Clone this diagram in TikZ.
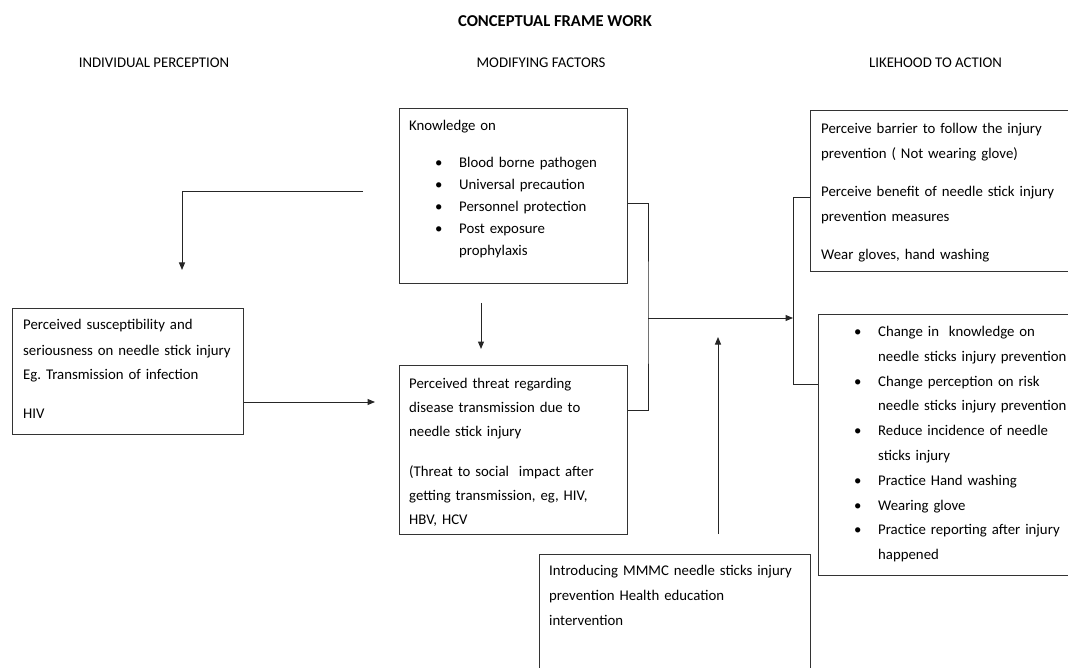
\documentclass[tikz,border=0pt]{standalone}
\usepackage{fontspec}
\setmainfont{Carlito}
\usetikzlibrary{arrows.meta}
\frenchspacing
\tikzset{>={Triangle[length=7.5pt,width=6pt]},
  box/.style={draw=black!80, line width=1pt, anchor=north west, inner sep=0pt},
  txt/.style={anchor=base west, inner sep=0pt, align=left, text width=300pt},
  head/.style={anchor=base, inner sep=0pt},
  link/.style={draw=black!85, line width=1pt}}
\newcommand{\bul}{\makebox[24pt][l]{\textbullet}}

\begin{document}
\begin{tikzpicture}[x=1pt, y=-1pt, font=\fontsize{14.8}{25}\selectfont]
\useasboundingbox (0,0) rectangle (1068,668);
\clip (0,0) rectangle (1068,668);

% titles
\node[head, font=\fontsize{16.6}{19}\selectfont\bfseries] (title) at (555,26.5) {CONCEPTUAL FRAME WORK};
\node[head] (h-ind) at (154,67.5) {INDIVIDUAL PERCEPTION};
\node[head] (h-mod) at (541,67.5) {MODIFYING FACTORS};
\node[head] (h-act) at (935.5,67.5) {LIKEHOOD TO ACTION};

% boxes
\node[box, minimum width=231, minimum height=126] (susc) at (12,308) {};
\node[box, minimum width=228, minimum height=175] (know) at (399,108) {};
\node[box, minimum width=228, minimum height=169] (threat) at (399,365) {};
\node[box, minimum width=271, minimum height=140] (interv) at (539,554) {};
\node[box, minimum width=290, minimum height=161] (act1) at (810,110) {};
\node[box, minimum width=290, minimum height=261] (act2) at (818,314) {};

% box texts
\node[txt] (susc-t) at (23,330) {Perceived susceptibility and\\
  seriousness on needle stick injury\\
  Eg. Transmission of infection\\[14pt]
  HIV};
\node[txt, font=\fontsize{14.8}{22}\selectfont] (know-t) at (409,131) {Knowledge on\\[15pt]
  \hspace*{26pt}\bul Blood borne pathogen\\
  \hspace*{26pt}\bul Universal precaution\\
  \hspace*{26pt}\bul Personnel protection\\
  \hspace*{26pt}\bul Post exposure\\
  \hspace*{50pt}prophylaxis};
\node[txt, font=\fontsize{14.8}{24}\selectfont] (threat-t) at (409,388) {Perceived threat regarding\\
  disease transmission due to\\
  needle stick injury\\[16pt]
  (Threat to social~ impact after\\
  getting transmission, eg, HIV,\\
  HBV, HCV};
\node[txt] (interv-t) at (549,575.5) {Introducing MMMC needle sticks injury\\
  prevention Health education\\
  intervention};
\node[txt] (act1-t) at (821,134) {Perceive barrier to follow the injury\\
  prevention ( Not wearing glove)\\[13pt]
  Perceive benefit of needle stick injury\\
  prevention measures\\[13pt]
  Wear gloves, hand washing};
\node[txt, font=\fontsize{14.8}{24.8}\selectfont] (act2-t) at (854,336.5) {\bul Change in~ knowledge on\\
  \hspace*{24pt}needle sticks injury prevention\\
  \bul Change perception on risk\\
  \hspace*{24pt}needle sticks injury prevention\\
  \bul Reduce incidence of needle\\
  \hspace*{24pt}sticks injury\\
  \bul Practice Hand washing\\
  \bul Wearing glove\\
  \bul Practice reporting after injury\\
  \hspace*{24pt}happened};

% connectors
\coordinate (c1) at (363,192);
\coordinate (c2) at (182,270);
\draw[link,->] (c1) -| (c2);

\coordinate (d1) at (481,303);
\coordinate (d2) at (481,349);
\draw[link,->] (d1) -- (d2);

\coordinate (e1) at (375,402);
\draw[link,->] (e1 -| susc.east) -- (e1);

\coordinate (j) at (648,318);
\coordinate (m) at (793,318);
\draw[link] (know.east |- 0,204) -| (j) |- (threat.east |- 0,410);
\draw[link,->] (j) -- (m);
\draw[link] (act1.west |- 0,198) -| (m) |- (act2.west |- 0,384);

\coordinate (u1) at (718,534);
\coordinate (u2) at (718,337);
\draw[link,->] (u1) -- (u2);
\end{tikzpicture}
\end{document}
